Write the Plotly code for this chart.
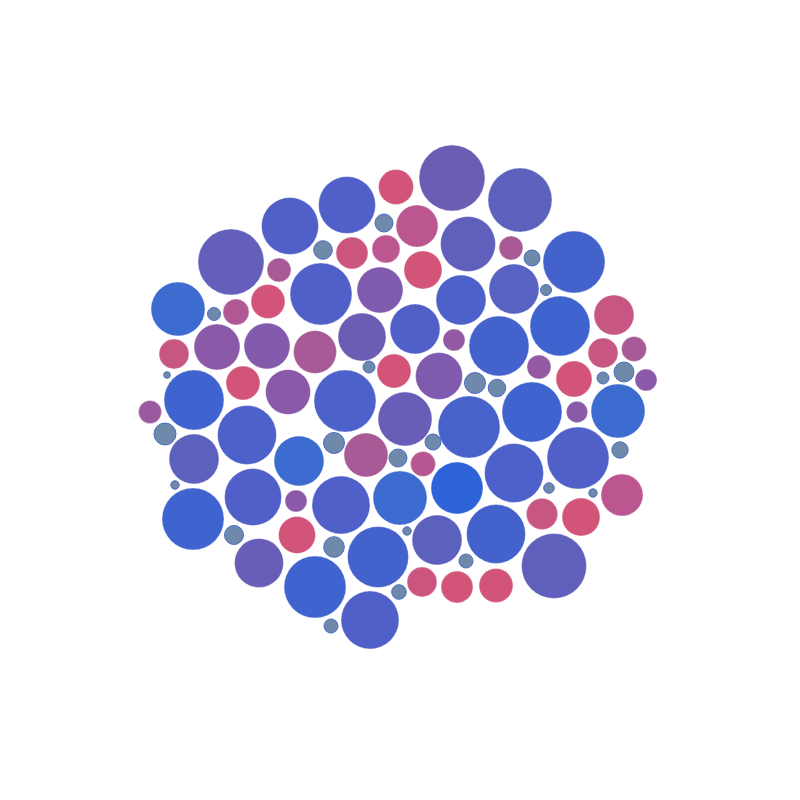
import plotly.graph_objects as go

# bubble centres (px units of the 800x800 canvas), radii and colour score
x_pos = [396, 452, 520, 347, 290, 231, 384, 417, 468, 511,
         532, 574, 546, 323, 352, 386, 423, 279, 321, 380,
         461, 514, 178, 214, 236, 268, 614, 560, 174, 217,
         267, 315, 362, 415, 454, 499, 603, 634, 539, 574,
         603, 624, 646, 167, 194, 243, 288, 150, 165, 247,
         345, 394, 369, 439, 405, 475, 497, 469, 532, 577,
         618, 334, 366, 433, 398, 423, 194, 299, 620, 578,
         514, 175, 253, 193, 296, 341, 400, 457, 407, 378,
         334, 437, 496, 234, 297, 542, 581, 622, 549, 593,
         554, 466, 422, 457, 496, 259, 315, 399, 370, 331]
y_pos = [187, 178, 200, 205, 226, 262, 223, 226, 244, 248,
         258, 262, 290, 250, 253, 249, 270, 270, 294, 290,
         300, 289, 309, 314, 312, 301.5, 315, 326, 354, 347,
         346, 352, 337, 329, 340, 346, 353, 349, 367, 379,
         378, 372, 380, 375, 400, 383, 392, 412, 434, 435,
         401, 371, 367, 376, 419, 383, 388, 427, 412, 412,
         411, 443, 455, 442, 458, 464, 459, 461, 450, 458,
         473, 485, 497, 519, 501, 505, 498, 488, 531, 557,
         547, 540, 534, 535, 535, 514, 517, 495, 488, 493,
         566, 561, 582, 587, 585.5, 563, 587, 592, 620, 626]
radius = [17.5, 33, 32, 28.5, 28.5, 33, 9, 21, 27.5, 12,
          8, 31, 5.5, 9.3, 16, 14, 19, 12, 31, 23,
          25, 25, 27, 6.5, 13, 17, 20, 30, 15, 23,
          23, 21.5, 24, 25, 11, 30, 15, 12.5, 12, 18,
          6, 10, 11, 3.3, 30, 17, 22.5, 11.5, 11, 29.5,
          31, 17, 6, 23.5, 27, 10.5, 8.7, 31, 30, 10.7,
          27, 10.5, 22, 8, 9, 12.5, 25, 25, 8.2, 31,
          29.5, 4.2, 28.5, 31, 11, 29, 27, 26, 4.2, 30.5,
          10.3, 25, 29.5, 9.5, 18.5, 15.7, 19, 21, 5.3, 4.2,
          32.5, 7, 15, 16, 17, 24.5, 31, 7.3, 29, 7]
score = [0.2, 0.62, 0.72, 0.8, 0.8, 0.68, 0, 0.33, 0.7, 0.4,
         0, 0.88, 0, 0, 0.25, 0.33, 0.2, 0.4, 0.8, 0.55,
         0.83, 0.76, 0.96, 0, 0.37, 0.2, 0.27, 0.92, 0.27, 0.5,
         0.53, 0.4, 0.62, 0.8, 0.47, 0.88, 0.27, 0.4, 0.47, 0.2,
         0, 0, 0.5, 0, 0.92, 0.2, 0.5, 0.45, 0, 0.83,
         0.83, 0.2, 0, 0.55, 0.65, 0, 0, 0.86, 0.92, 0.5,
         0.96, 0, 0.4, 0, 0, 0.35, 0.72, 0.96, 0, 0.8,
         0.83, 0, 0.8, 0.92, 0.5, 0.8, 0.96, 1.0, 0, 0.88,
         0, 0.72, 0.88, 0, 0.2, 0.27, 0.2, 0.33, 0, 0,
         0.7, 0, 0.25, 0.2, 0.2, 0.65, 0.92, 0, 0.8, 0]

colour_scale = [
    [0.0, '#6f89ab'], [0.2, '#d25478'], [0.27, '#c85682'], [0.33, '#bb5690'],
    [0.4, '#a85a96'], [0.5, '#8a5aa8'], [0.55, '#7f5aae'], [0.62, '#6c5db4'],
    [0.7, '#6060bc'], [0.76, '#5862c2'], [0.8, '#5060c8'], [0.88, '#4462cc'],
    [0.92, '#3f64cf'], [0.96, '#3c6cd0'], [1.0, '#2e62d8'],
]

# small grey bubbles carry a blue rim
line_colors = ['#4a6cc8' if s == 0 else 'rgba(255,255,255,0.35)' for s in score]

fig = go.Figure(go.Scatter(
    x=x_pos,
    y=y_pos,
    mode='markers',
    hoverinfo='skip',
    marker=dict(
        size=radius,
        sizemode='diameter',
        sizeref=0.5,
        color=score,
        colorscale=colour_scale,
        cmin=0,
        cmax=1,
        opacity=1,
        line=dict(color=line_colors, width=1),
    ),
))

# the page body adds an 8px margin, so the axes start 8 units in
fig.update_layout(
    width=800,
    height=800,
    margin=dict(l=0, r=0, t=0, b=0),
    plot_bgcolor='white',
    paper_bgcolor='white',
    showlegend=False,
    xaxis=dict(range=[8, 808], visible=False, fixedrange=True),
    yaxis=dict(range=[808, 8], visible=False, fixedrange=True),
)

fig.write_html("out.html", config={'displayModeBar': False})
